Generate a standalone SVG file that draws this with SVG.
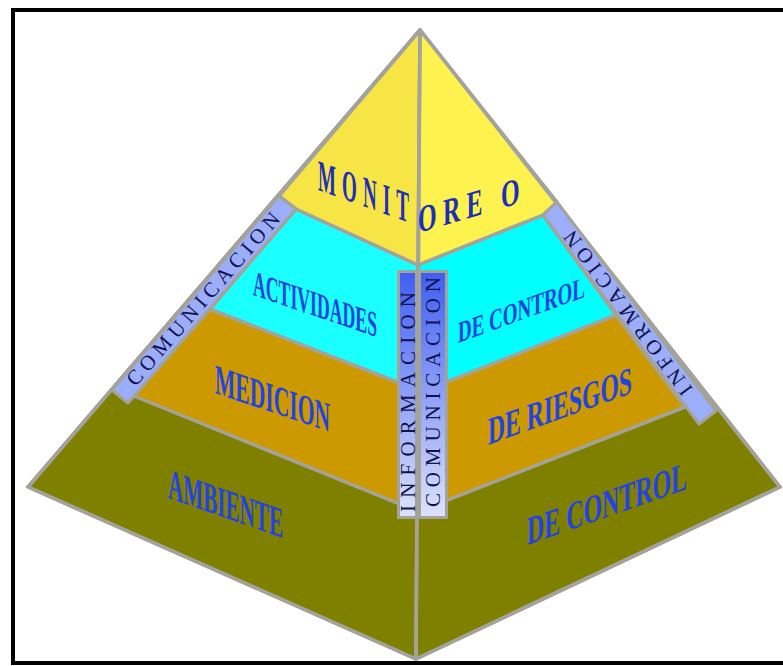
<svg xmlns="http://www.w3.org/2000/svg" width="783" height="666" viewBox="0 0 783 666">
<defs>
<linearGradient id="gc" x1="0" y1="0" x2="0" y2="1">
<stop offset="0" stop-color="#3f5ff2"/>
<stop offset="1" stop-color="#dde2fb"/>
</linearGradient>
<style>
.edge{stroke:#a3a39c;stroke-width:3.5;stroke-linejoin:round}
.lbl{font-family:"Liberation Serif","Times New Roman",serif;font-weight:bold;fill:#2243e0}
.mon{fill:#1c2fb8}
.strip{font-family:"Liberation Serif","Times New Roman",serif;fill:#12124f;font-size:21px}
.band{fill:#9caefa;stroke:#a3a39c;stroke-width:3;stroke-linejoin:round}
</style>
</defs>
<rect width="783" height="666" fill="#fff"/>
<rect id="frame" x="13" y="10" width="800" height="653" fill="none" stroke="#000" stroke-width="4"/>

<g id="ambiente-de-control">
<polygon class="edge" fill="#808000" points="420,30 28,487 416,659"/>
<polygon class="edge" fill="#808000" points="420,30 780,487 416,659"/>
</g>
<g id="medicion-de-riesgos">
<polygon class="edge" fill="#cc9900" points="210,309 418,390 417,511 134,396"/>
<polygon class="edge" fill="#cc9900" points="418,393 616,315 685,407 417,512"/>
</g>
<g id="actividades-de-control">
<polygon class="edge" fill="#1affff" points="296,209 418,265 418,390 210,309"/>
<polygon class="edge" fill="#00ffff" points="418,265 543,215 616,315 418,393"/>
</g>
<g id="monitoreo">
<polygon class="edge" fill="#f7e546" points="420,30 279,196 296,209 418,265"/>
<polygon class="edge" fill="#fdf24e" points="420,30 557,202 543,215 418,265"/>
</g>
<g id="outline">
<polygon points="420,30 28,487 416,659 780,487" fill="none" class="edge" stroke-width="4"/>
<line x1="420" y1="30" x2="416" y2="659" class="edge" stroke-width="4"/>
</g>

<g id="comunicacion-left">
<polygon class="band" points="279,196 296,209 128,403 112,390"/>
<text class="strip" x="-111" y="7" textLength="222" lengthAdjust="spacing" transform="translate(203,299) rotate(-49)">COMUNICACION</text>
</g>
<g id="informacion-right">
<polygon class="band" points="557,202 543,215 699,424 716,411"/>
<text class="strip" x="-100" y="7" textLength="200" lengthAdjust="spacing" transform="translate(628,313) rotate(-126.8)">INFORMACION</text>
</g>
<g id="informacion-comunicacion-center">
<rect x="397" y="270" width="51" height="249" fill="#a3a39c"/>
<rect x="400" y="273" width="15" height="243" fill="url(#gc)"/>
<rect x="421" y="273" width="24" height="243" fill="url(#gc)"/>
<text class="strip" font-size="22" x="-110" y="7" textLength="220" lengthAdjust="spacing" transform="translate(407.5,402) rotate(-90)">INFORMACION</text>
<text class="strip" font-size="22" x="-115" y="7" textLength="230" lengthAdjust="spacing" transform="translate(432.5,392) rotate(-90)">COMUNICACION</text>
</g>

<g id="labels">
<text class="lbl mon" font-size="44" letter-spacing="14" textLength="97" lengthAdjust="spacingAndGlyphs" transform="translate(318,190) skewY(19.7)">MONIT</text>
<text class="lbl mon" font-size="38" letter-spacing="10" textLength="108" lengthAdjust="spacingAndGlyphs" transform="translate(418,233) skewY(-16.4)">ORE O</text>
<text class="lbl" font-size="36" textLength="124" lengthAdjust="spacingAndGlyphs" transform="translate(253,295) skewY(18.7)">ACTIVIDADES</text>
<text class="lbl" font-size="30" textLength="127" lengthAdjust="spacingAndGlyphs" transform="translate(458,343) skewY(-20)">DE CONTROL</text>
<text class="lbl" font-size="42" textLength="115" lengthAdjust="spacingAndGlyphs" transform="translate(215,393) skewY(18.7)">MEDICION</text>
<text class="lbl" font-size="39" textLength="144" lengthAdjust="spacingAndGlyphs" transform="translate(488,445) skewY(-19.9)">DE RIESGOS</text>
<text class="lbl" font-size="43" textLength="115" lengthAdjust="spacingAndGlyphs" transform="translate(168,498) skewY(19.2)">AMBIENTE</text>
<text class="lbl" font-size="40" textLength="160" lengthAdjust="spacingAndGlyphs" transform="translate(527,545) skewY(-19.3)">DE CONTROL</text>
</g>
</svg>
